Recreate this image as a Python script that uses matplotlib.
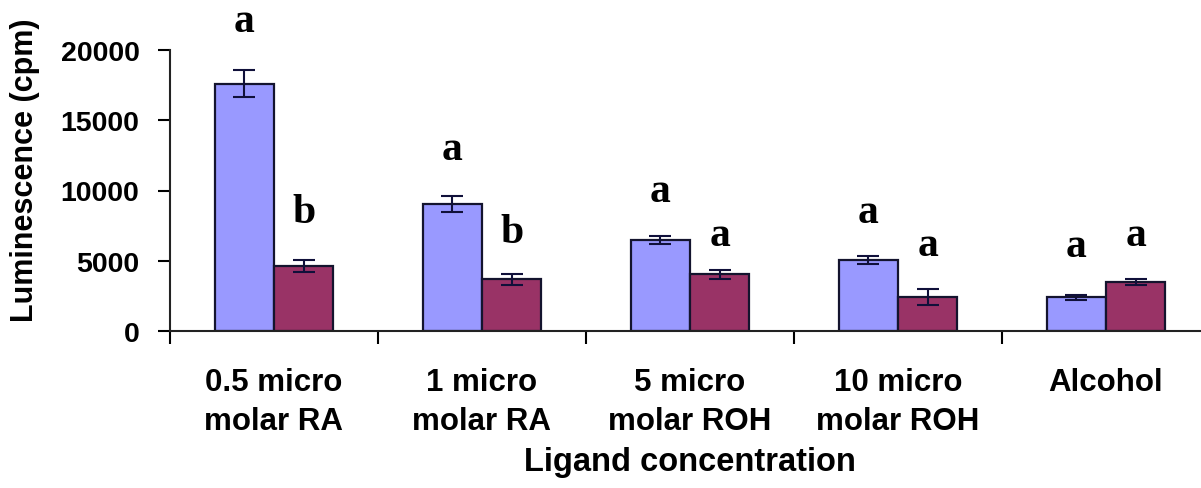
import matplotlib
matplotlib.use("Agg")
import matplotlib.pyplot as plt
import numpy as np

# Data
categories = ["0.5 micro\nmolar RA", "1 micro\nmolar RA", "5 micro\nmolar ROH",
              "10 micro\nmolar ROH", "Alcohol"]
blue_vals = [17600, 9050, 6480, 5050, 2400]
blue_err = [950, 570, 270, 300, 180]
red_vals = [4600, 3680, 4030, 2400, 3500]
red_err = [430, 380, 330, 570, 200]
blue_letters = ["a", "a", "a", "a", "a"]
red_letters = ["b", "b", "a", "a", "a"]
# letter heights (data units) as placed in the reference
blue_letter_y = [22050, 12950, 9960, 8470, 6050]
red_letter_y = [8470, 7050, 6830, 6120, 6830]

BLUE = "#9999FF"
RED = "#993366"
EDGE = "#14142e"

fig = plt.figure(figsize=(12.01, 4.89), dpi=100)
ax = fig.add_axes([170 / 1201, 157 / 489, 1040 / 1201, 281 / 489])

x = np.arange(len(categories))
w = 0.286
ax.bar(x - w / 2, blue_vals, w, color=BLUE, edgecolor=EDGE, linewidth=1.6, zorder=2)
ax.bar(x + w / 2, red_vals, w, color=RED, edgecolor=EDGE, linewidth=1.6, zorder=2)
ax.errorbar(x - w / 2, blue_vals, yerr=blue_err, fmt="none", ecolor="#10103a",
            elinewidth=1.5, capsize=8, capthick=1.5, zorder=3)
ax.errorbar(x + w / 2, red_vals, yerr=red_err, fmt="none", ecolor="#10103a",
            elinewidth=1.5, capsize=8, capthick=1.5, zorder=3)

letter_font = dict(family="Liberation Serif", fontweight="bold", fontsize=30,
                   ha="center", va="center", clip_on=False)
for i in range(len(categories)):
    ax.text(x[i] - w / 2, blue_letter_y[i], blue_letters[i], **letter_font)
    ax.text(x[i] + w / 2, red_letter_y[i], red_letters[i], **letter_font)

ax.set_xlim(-0.5, 4.5)
ax.set_ylim(0, 20000)
ax.set_yticks([0, 5000, 10000, 15000, 20000])
ax.set_yticklabels(["0", "5000", "10000", "15000", "20000"])
ax.set_xticks(np.arange(-0.5, 5.0, 1.0))
ax.set_xticklabels([])
ax.set_xticks(x, minor=True)
ax.set_xticklabels(categories, minor=True)

for s in ["top", "right"]:
    ax.spines[s].set_visible(False)
for s in ["left", "bottom"]:
    ax.spines[s].set_linewidth(1.5)
    ax.spines[s].set_color("#222222")

ax.tick_params(axis="y", direction="out", length=9, width=1.5, pad=13,
               labelsize=20.5)
ax.tick_params(axis="x", which="major", direction="out", length=9, width=1.5)
ax.tick_params(axis="x", which="minor", length=0, pad=26, labelsize=22.5)
for lab in ax.get_yticklabels() + ax.get_xticklabels(minor=True):
    lab.set_fontfamily("Liberation Sans")
    lab.set_fontweight("bold")
for lab in ax.get_xticklabels(minor=True):
    lab.set_linespacing(1.38)

ax.set_ylabel("Luminescence (cpm)", fontsize=22, fontweight="bold",
              family="Liberation Sans")
ax.yaxis.set_label_coords((25 - 170) / 1040, (332 - 170) / 281,
                          transform=ax.transAxes)
ax.yaxis.label.set_va("center")
ax.set_xlabel("Ligand concentration", fontsize=23.5, fontweight="bold",
              family="Liberation Sans")
ax.xaxis.set_label_coords((690 - 170) / 1040, -(462 - 332) / 281,
                          transform=ax.transAxes)
ax.xaxis.label.set_va("center")

fig.savefig("out.png", dpi=100)
